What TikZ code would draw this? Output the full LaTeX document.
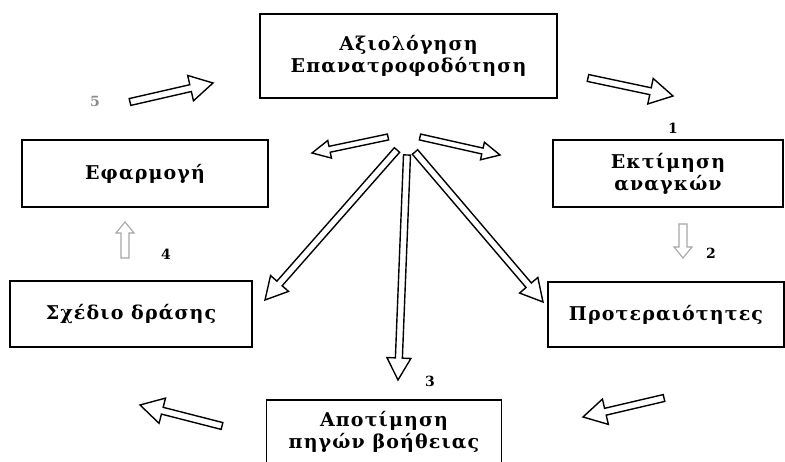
\documentclass[tikz,border=0pt]{standalone}
\usepackage{fontspec}
\setmainfont{DejaVu Serif}[LetterSpace=6]
\usetikzlibrary{calc}

\tikzset{
  stage/.style={rectangle, draw=black, line width=1.8pt, align=center, inner sep=0pt,
    font=\bfseries\fontsize{19}{22}\selectfont},
  harrow/.style={draw=black, line width=1.4pt, fill=white, line join=miter},
  lightarrow/.style={harrow, draw=black!35, line width=1.1pt},
  num/.style={font=\bfseries\fontsize{14}{16}\selectfont}
}

% hollow block arrow: [style]{from}{to}{half shaft}{half head}{head length}
\newcommand{\blockarrow}[6][]{%
  \draw[harrow,#1] let \p1=($(#3)-(#2)$), \n1={atan2(\y1,\x1)}, \n2={veclen(\x1,\y1)} in
    [shift={(#2)}, rotate=\n1]
    (0,-#4) -- (\n2-#6,-#4) -- (\n2-#6,-#5) -- (\n2,0) -- (\n2-#6,#5) -- (\n2-#6,#4) -- (0,#4) -- cycle;
}

\begin{document}
\begin{tikzpicture}[x=1pt,y=1pt]
\useasboundingbox (0,0) rectangle (785,462);
\clip (0,0) rectangle (785,462);
\fill[white] (0,0) rectangle (785,462);

% the six stages
\node (eval) [stage, line width=2.4pt, minimum width=297, minimum height=84] at (408.5,406) {Αξιολόγηση\\Επανατροφοδότηση};
\node (needs) [stage, minimum width=230, minimum height=67] at (668,288.5) {Εκτίμηση\\αναγκών};
\node (prio) [stage, minimum width=236, minimum height=65] at (666,147.5) {Προτεραιότητες};
\node (res) [stage, minimum width=235, minimum height=64] at (384,30) {Αποτίμηση\\πηγών βοήθειας};
\node (plan) [stage, minimum width=242, minimum height=66] at (131,148) {Σχέδιο δράσης};
\node (impl) [stage, minimum width=246, minimum height=67] at (145,288.5) {Εφαρμογή};

% step numbers
\node (n1) [num] at (673,334) {1};
\node (n2) [num] at (711,209) {2};
\node (n3) [num] at (430,81) {3};
\node (n4) [num] at (166,208) {4};
\node (n5) [num, text=black!45] at (95,360) {5};

% ends of the cycle arrows
\coordinate (c5a) at (130,360);  \coordinate (c5b) at (213,379);
\coordinate (c1a) at (588,384);  \coordinate (c1b) at (673,366);
\coordinate (c2a) at (683,238);  \coordinate (c2b) at (683,204);
\coordinate (c3a) at (664,64);   \coordinate (c3b) at (583,45);
\coordinate (c4a) at (222,36);   \coordinate (c4b) at (140,57);
\coordinate (c6a) at (125,204);  \coordinate (c6b) at (125,240);

% ends of the feedback fan
\coordinate (fl) at (388,325);  \coordinate (flb) at (312,309);
\coordinate (fr) at (420,325);  \coordinate (frb) at (500,307);
\coordinate (fL) at (397,312);  \coordinate (fLb) at (265,162);
\coordinate (fc) at (407,307);  \coordinate (fcb) at (398,82);
\coordinate (fR) at (415,310);  \coordinate (fRb) at (543,160);

\blockarrow{c5a}{c5b}{3.5}{13}{23}
\blockarrow{c1a}{c1b}{3.5}{13}{23}
\blockarrow[lightarrow]{c2a}{c2b}{4}{9}{11}
\blockarrow{c3a}{c3b}{3.5}{13}{23}
\blockarrow{c4a}{c4b}{3.5}{13}{23}
\blockarrow[lightarrow]{c6a}{c6b}{4}{9}{11}

\blockarrow{fl}{flb}{3}{9}{18}
\blockarrow{fr}{frb}{3}{9}{18}
\blockarrow{fL}{fLb}{3.5}{12}{22}
\blockarrow{fc}{fcb}{3.5}{12}{22}
\blockarrow{fR}{fRb}{3.5}{12}{22}
\end{tikzpicture}
\end{document}
